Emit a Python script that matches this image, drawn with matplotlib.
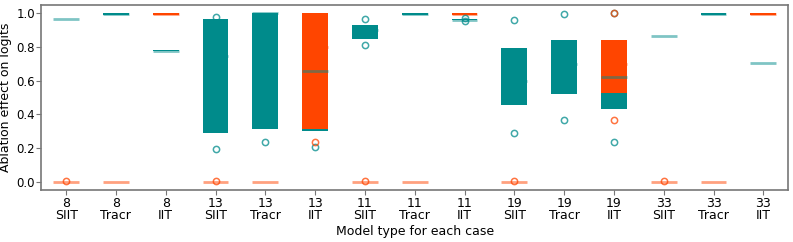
import matplotlib
matplotlib.use("Agg")
import matplotlib.pyplot as plt
import numpy as np

cases = ["8", "8", "8", "13", "13", "13", "11", "11", "11", "19", "19", "19", "33", "33", "33"]
model_types = ["SIIT", "Tracr", "IIT"] * 5
tick_labels = [f"{c}\n{m}" for c, m in zip(cases, model_types)]

# teal series (samples per case/model)
teal_values = [
    [0.966, 0.966, 0.966, 0.966, 0.966],
    [0.993, 0.993, 0.996, 1.0, 1.0],
    [0.775, 0.775, 0.778, 0.781, 0.781],
    [0.195, 0.29, 0.75, 0.97, 0.982],
    [0.236, 0.314, 1.0, 1.0, 1.0],
    [0.204, 0.302, 0.655, 1.0, 1.0],
    [0.811, 0.849, 0.90, 0.929, 0.966],
    [0.993, 0.993, 0.996, 1.0, 1.0],
    [0.958, 0.960, 0.964, 0.967, 0.972],
    [0.288, 0.454, 0.60, 0.796, 0.962],
    [0.369, 0.522, 0.70, 0.845, 0.998],
    [0.238, 0.429, 0.623, 0.845, 1.0],
    [0.865, 0.865, 0.865, 0.865, 0.865],
    [0.993, 0.993, 0.996, 1.0, 1.0],
    [0.704, 0.704, 0.704, 0.704, 0.704],
]

# orange series (empty list = no data)
orange_values = [
    [0.0, 0.0, 0.0, 0.0, 0.003],
    [0.0, 0.0, 0.0, 0.0, 0.0],
    [0.993, 0.993, 0.996, 1.0, 1.0],
    [0.0, 0.0, 0.0, 0.0, 0.003],
    [0.0, 0.0, 0.0, 0.0, 0.0],
    [0.236, 0.312, 0.80, 1.0, 1.0],
    [0.0, 0.0, 0.0, 0.0, 0.003],
    [0.0, 0.0, 0.0, 0.0, 0.0],
    [0.993, 0.993, 0.996, 1.0, 1.0],
    [0.0, 0.0, 0.0, 0.0, 0.003],
    [],
    [0.369, 0.524, 0.70, 0.845, 1.0],
    [0.0, 0.0, 0.0, 0.0, 0.003],
    [0.0, 0.0, 0.0, 0.0, 0.0],
    [0.993, 0.993, 0.996, 1.0, 1.0],
]

TEAL = "#008B8B"
ORANGE = "#FF4500"

fig = plt.figure(figsize=(7.93, 2.42), dpi=100)
ax = fig.add_axes([0.052, 0.215, 0.942, 0.764])

positions = np.arange(1, len(tick_labels) + 1)


def draw(values, color, z):
    pos = [p for p, v in zip(positions, values) if len(v) > 0]
    data = [v for v in values if len(v) > 0]
    bp = ax.boxplot(
        data, positions=pos, widths=0.52, whis=0, patch_artist=True,
        showcaps=False, manage_ticks=False, zorder=z,
        boxprops=dict(facecolor=color, edgecolor="none", linewidth=0),
        whiskerprops=dict(linewidth=0),
        medianprops=dict(color=color, alpha=0.5, linewidth=2),
        flierprops=dict(marker="o", markerfacecolor="none",
                        markeredgecolor=color, markersize=4.5,
                        markeredgewidth=1.1, alpha=0.75),
    )
    for m in bp["medians"]:
        m.set_zorder(z + 10)
    for f in bp["fliers"]:
        f.set_zorder(z + 12)
    return bp


draw(teal_values, TEAL, 3)
draw(orange_values, ORANGE, 4)

ax.set_xlim(0.5, len(tick_labels) + 0.5)
ax.set_ylim(-0.05, 1.05)
ax.set_xticks(positions)
ax.set_xticklabels(tick_labels, fontsize=9, linespacing=0.95)
ax.set_yticks([0.0, 0.2, 0.4, 0.6, 0.8, 1.0])
ax.set_yticklabels(["0.0", "0.2", "0.4", "0.6", "0.8", "1.0"], fontsize=8.5)
ax.set_ylabel("Ablation effect on logits", fontsize=9, labelpad=3)
ax.set_xlabel("Model type for each case", fontsize=9, labelpad=2)
for s in ax.spines.values():
    s.set_color("#777777")
    s.set_linewidth(1.2)
ax.tick_params(axis="x", color="#777777", length=3.5, pad=1.5)
ax.tick_params(axis="y", color="#777777", length=3.5, pad=1.0)

fig.savefig("out.png", dpi=100)
